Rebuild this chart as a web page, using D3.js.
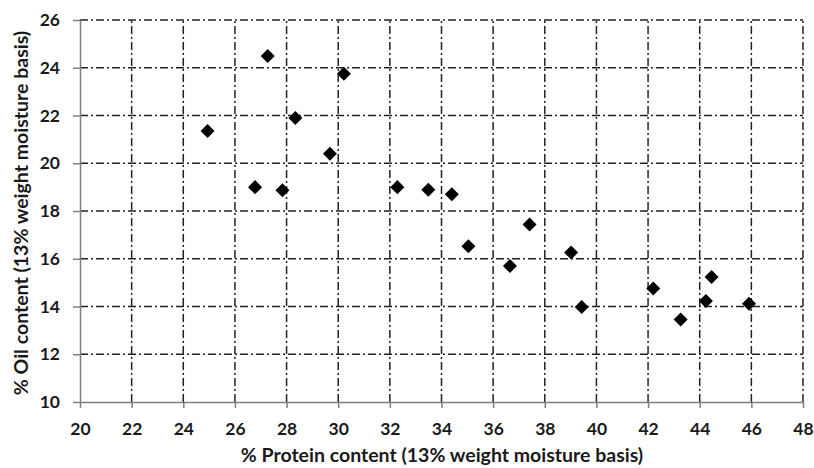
<!DOCTYPE html>
<html>
<head>
<meta charset="utf-8">
<script src="https://cdn.jsdelivr.net/npm/d3@7"></script>
<style>
  body{margin:0;background:#fff;}
  svg{display:block;}
</style>
</head>
<body>
<div id="chart"></div>
<script>
// protein % (x) and oil % (y), 13% moisture basis
var protein=[24.94,27.27,28.34,30.22,29.68,26.78,27.84,32.29,33.49,34.40,35.04,36.65,37.41,39.02,39.43,42.20,43.26,44.24,44.46,45.91];
var oil    =[21.35,24.49,21.90,23.75,20.40,19.00,18.87,19.00,18.89,18.70,16.52,15.70,17.43,16.26,13.98,14.75,13.46,14.23,15.24,14.12];
var xTicks=[20,22,24,26,28,30,32,34,36,38,40,42,44,46,48];
var yTicks=[10,12,14,16,18,20,22,24,26];
var xTitle='% Protein content (13% weight moisture basis)';
var yTitle='% Oil content (13% weight moisture basis)';

var W=814,H=468,
	m={left:80,right:11,top:20,bottom:66};
var sFont='Lato, "Open Sans", sans-serif';

var oSvg=d3.select('#chart').append('svg')
	.attr('width',W).attr('height',H)
	.style('font-family',sFont)
	.style('font-weight','bold');

var x=d3.scaleLinear().domain([20,48]).range([m.left,W-m.right]);
var y=d3.scaleLinear().domain([10,26]).range([H-m.bottom,m.top]);

//---------------- grid (dash-dot) ----------------
var oGrid=oSvg.append('g')
	.attr('stroke','#222').attr('stroke-width',1.5)
	.attr('stroke-dasharray','8,3,2,3');
oGrid.selectAll('line.v').data(xTicks.slice(1)).enter().append('line')
	.attr('x1',function(d){return x(d)}).attr('x2',function(d){return x(d)})
	.attr('y1',y(10)).attr('y2',y(26));
oGrid.selectAll('line.h').data(yTicks.slice(1)).enter().append('line')
	.attr('y1',function(d){return y(d)}).attr('y2',function(d){return y(d)})
	.attr('x1',x(20)).attr('x2',x(48));

//---------------- axes ----------------
var oXAxis=oSvg.append('g').attr('transform','translate(0,'+y(10)+')')
	.call(d3.axisBottom(x).tickValues(xTicks).tickSize(6).tickPadding(15).tickSizeOuter(0));
var oYAxis=oSvg.append('g').attr('transform','translate('+x(20)+',0)')
	.call(d3.axisLeft(y).tickValues(yTicks).tickSize(7).tickPadding(13).tickSizeOuter(0));

[oXAxis,oYAxis].forEach(function(a){
	a.select('.domain').attr('stroke','#808080').attr('stroke-width',1.5);
	a.selectAll('.tick line').attr('stroke','#808080').attr('stroke-width',1.5);
	a.selectAll('.tick text').attr('fill','#1a1a1a').style('font-size','17.5px')
		.style('font-family',sFont).style('font-weight','bold');
});

//---------------- points ----------------
var oDiamond=d3.symbol().type(d3.symbolDiamond2).size(125);
oSvg.append('g').selectAll('path').data(protein).enter().append('path')
	.attr('d',oDiamond)
	.attr('fill','#000')
	.attr('transform',function(d,i){return 'translate('+x(d)+','+y(oil[i])+')'});

//---------------- titles ----------------
oSvg.append('text')
	.attr('x',442).attr('y',462)
	.attr('text-anchor','middle').attr('fill','#1a1a1a')
	.style('font-size','19.5px')
	.text(xTitle);
oSvg.append('text')
	.attr('transform','translate(28,213) rotate(-90)')
	.attr('text-anchor','middle').attr('fill','#1a1a1a')
	.style('font-size','19.5px')
	.text(yTitle);
</script>
</body>
</html>
